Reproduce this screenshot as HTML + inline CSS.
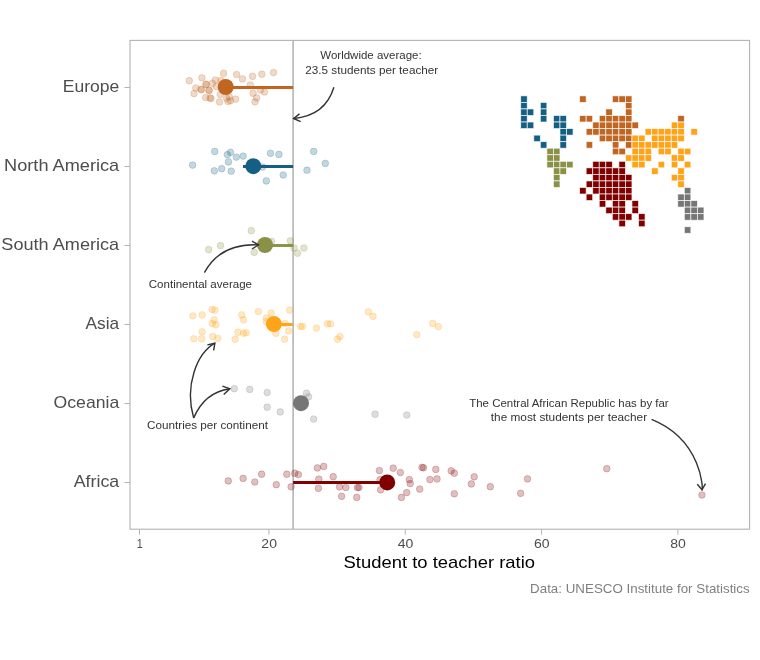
<!DOCTYPE html><html><head><meta charset="utf-8"><style>html,body{margin:0;padding:0;background:#fff;}svg{display:block;will-change:transform;}text{font-family:"Liberation Sans",sans-serif;}</style></head><body>
<svg width="760" height="660" viewBox="0 0 760 660">
<rect x="0" y="0" width="760" height="660" fill="#fff"/>
<line x1="124.5" y1="87.5" x2="130" y2="87.5" stroke="#b3b3b3" stroke-width="1"/>
<text x="119.2" y="91.8" font-size="15.7" fill="#4d4d4d" text-anchor="end" textLength="56.4" lengthAdjust="spacingAndGlyphs">Europe</text>
<line x1="124.5" y1="166.5" x2="130" y2="166.5" stroke="#b3b3b3" stroke-width="1"/>
<text x="119.2" y="170.8" font-size="15.7" fill="#4d4d4d" text-anchor="end" textLength="115.1" lengthAdjust="spacingAndGlyphs">North America</text>
<line x1="124.5" y1="245.5" x2="130" y2="245.5" stroke="#b3b3b3" stroke-width="1"/>
<text x="119.2" y="249.8" font-size="15.7" fill="#4d4d4d" text-anchor="end" textLength="117.9" lengthAdjust="spacingAndGlyphs">South America</text>
<line x1="124.5" y1="324.5" x2="130" y2="324.5" stroke="#b3b3b3" stroke-width="1"/>
<text x="119.2" y="328.8" font-size="15.7" fill="#4d4d4d" text-anchor="end" textLength="33.6" lengthAdjust="spacingAndGlyphs">Asia</text>
<line x1="124.5" y1="403.5" x2="130" y2="403.5" stroke="#b3b3b3" stroke-width="1"/>
<text x="119.2" y="407.8" font-size="15.7" fill="#4d4d4d" text-anchor="end" textLength="65.6" lengthAdjust="spacingAndGlyphs">Oceania</text>
<line x1="124.5" y1="482.5" x2="130" y2="482.5" stroke="#b3b3b3" stroke-width="1"/>
<text x="119.2" y="486.8" font-size="15.7" fill="#4d4d4d" text-anchor="end" textLength="45.5" lengthAdjust="spacingAndGlyphs">Africa</text>
<line x1="139.45" y1="529.5" x2="139.45" y2="534.7" stroke="#b3b3b3" stroke-width="1"/>
<text x="139.65" y="548.3" font-size="12.9" fill="#4d4d4d" text-anchor="middle" textLength="6.0" lengthAdjust="spacingAndGlyphs">1</text>
<line x1="268.95" y1="529.5" x2="268.95" y2="534.7" stroke="#b3b3b3" stroke-width="1"/>
<text x="269.15" y="548.3" font-size="12.9" fill="#4d4d4d" text-anchor="middle" textLength="15.6" lengthAdjust="spacingAndGlyphs">20</text>
<line x1="405.27" y1="529.5" x2="405.27" y2="534.7" stroke="#b3b3b3" stroke-width="1"/>
<text x="405.47" y="548.3" font-size="12.9" fill="#4d4d4d" text-anchor="middle" textLength="15.6" lengthAdjust="spacingAndGlyphs">40</text>
<line x1="541.59" y1="529.5" x2="541.59" y2="534.7" stroke="#b3b3b3" stroke-width="1"/>
<text x="541.79" y="548.3" font-size="12.9" fill="#4d4d4d" text-anchor="middle" textLength="15.6" lengthAdjust="spacingAndGlyphs">60</text>
<line x1="677.91" y1="529.5" x2="677.91" y2="534.7" stroke="#b3b3b3" stroke-width="1"/>
<text x="678.11" y="548.3" font-size="12.9" fill="#4d4d4d" text-anchor="middle" textLength="15.6" lengthAdjust="spacingAndGlyphs">80</text>
<text x="343.6" y="568.2" font-size="17" fill="#000" textLength="191.4" lengthAdjust="spacingAndGlyphs">Student to teacher ratio</text>
<text x="749.7" y="593" font-size="12.6" fill="#7f7f7f" text-anchor="end" textLength="219.6" lengthAdjust="spacingAndGlyphs">Data: UNESCO Institute for Statistics</text>
<line x1="293.1" y1="40" x2="293.1" y2="529" stroke="#aaaaaa" stroke-width="1.4"/>
<line x1="225.7" y1="87.5" x2="293.1" y2="87.5" stroke="#C16622" stroke-width="2.9"/>
<line x1="243" y1="166.5" x2="293.1" y2="166.5" stroke="#155F83" stroke-width="2.9"/>
<line x1="265" y1="245.5" x2="293.1" y2="245.5" stroke="#8A9045" stroke-width="2.9"/>
<line x1="273.9" y1="324.5" x2="293.1" y2="324.5" stroke="#FFA319" stroke-width="2.9"/>
<line x1="301" y1="403.5" x2="293.1" y2="403.5" stroke="#767676" stroke-width="2.9"/>
<line x1="387.2" y1="482.5" x2="293.1" y2="482.5" stroke="#800000" stroke-width="2.9"/>
<g fill="#C16622" fill-opacity="0.25" stroke="#C16622" stroke-opacity="0.25" stroke-width="0.8">
<circle cx="189.3" cy="80.7" r="3.35"/>
<circle cx="201.9" cy="77.8" r="3.35"/>
<circle cx="223.6" cy="73.3" r="3.35"/>
<circle cx="236.6" cy="74.5" r="3.35"/>
<circle cx="195.8" cy="88" r="3.35"/>
<circle cx="194" cy="93.6" r="3.35"/>
<circle cx="201.3" cy="89.6" r="3.35"/>
<circle cx="206" cy="84.3" r="3.35"/>
<circle cx="209.2" cy="90.3" r="3.35"/>
<circle cx="215.4" cy="80" r="3.35"/>
<circle cx="212.4" cy="83.3" r="3.35"/>
<circle cx="216.3" cy="86.5" r="3.35"/>
<circle cx="205.7" cy="97.5" r="3.35"/>
<circle cx="210" cy="97.9" r="3.35"/>
<circle cx="219.5" cy="101.9" r="3.35"/>
<circle cx="220.3" cy="94.4" r="3.35"/>
<circle cx="226.6" cy="98.3" r="3.35"/>
<circle cx="230.5" cy="100.7" r="3.35"/>
<circle cx="235.6" cy="99.1" r="3.35"/>
<circle cx="229.3" cy="96.7" r="3.35"/>
<circle cx="221" cy="80.5" r="3.35"/>
<circle cx="242.4" cy="78.9" r="3.35"/>
<circle cx="252.6" cy="76.3" r="3.35"/>
<circle cx="261.8" cy="74.2" r="3.35"/>
<circle cx="273.5" cy="72.6" r="3.35"/>
<circle cx="250.3" cy="85" r="3.35"/>
<circle cx="253.1" cy="93.2" r="3.35"/>
<circle cx="256.6" cy="97.9" r="3.35"/>
<circle cx="255" cy="101.8" r="3.35"/>
<circle cx="260.5" cy="90" r="3.35"/>
<circle cx="264.5" cy="92" r="3.35"/>
<circle cx="211" cy="98.5" r="3.35"/>
<circle cx="228" cy="101.5" r="3.35"/>
<circle cx="206.1" cy="84.4" r="3.35"/>
<circle cx="201.1" cy="89.5" r="3.35"/>
<circle cx="208.9" cy="90.4" r="3.35"/>
</g>
<g fill="#155F83" fill-opacity="0.25" stroke="#155F83" stroke-opacity="0.25" stroke-width="0.8">
<circle cx="192.6" cy="165.1" r="3.35"/>
<circle cx="214.7" cy="151.4" r="3.35"/>
<circle cx="227.4" cy="154.6" r="3.35"/>
<circle cx="230.5" cy="152.3" r="3.35"/>
<circle cx="236.4" cy="157.1" r="3.35"/>
<circle cx="243.2" cy="156.1" r="3.35"/>
<circle cx="228.4" cy="161.9" r="3.35"/>
<circle cx="214.3" cy="170.8" r="3.35"/>
<circle cx="221.7" cy="168.7" r="3.35"/>
<circle cx="231.2" cy="171.2" r="3.35"/>
<circle cx="262.5" cy="167" r="3.35"/>
<circle cx="266.3" cy="180.9" r="3.35"/>
<circle cx="270.5" cy="153.3" r="3.35"/>
<circle cx="278.9" cy="154.4" r="3.35"/>
<circle cx="283.2" cy="175" r="3.35"/>
<circle cx="313.7" cy="151.4" r="3.35"/>
<circle cx="325.3" cy="163.4" r="3.35"/>
<circle cx="307" cy="170.2" r="3.35"/>
</g>
<g fill="#8A9045" fill-opacity="0.25" stroke="#8A9045" stroke-opacity="0.25" stroke-width="0.8">
<circle cx="208.7" cy="249.6" r="3.35"/>
<circle cx="220.5" cy="245.6" r="3.35"/>
<circle cx="251.3" cy="230.7" r="3.35"/>
<circle cx="254.2" cy="252.4" r="3.35"/>
<circle cx="271.5" cy="241.3" r="3.35"/>
<circle cx="290.4" cy="240.8" r="3.35"/>
<circle cx="294" cy="248" r="3.35"/>
<circle cx="297.5" cy="253.2" r="3.35"/>
<circle cx="303.9" cy="248" r="3.35"/>
</g>
<g fill="#FFA319" fill-opacity="0.25" stroke="#FFA319" stroke-opacity="0.25" stroke-width="0.8">
<circle cx="192.9" cy="315.8" r="3.35"/>
<circle cx="202.1" cy="314.9" r="3.35"/>
<circle cx="212.2" cy="309.4" r="3.35"/>
<circle cx="215" cy="310.1" r="3.35"/>
<circle cx="214.1" cy="319.9" r="3.35"/>
<circle cx="212.2" cy="323.5" r="3.35"/>
<circle cx="215.9" cy="324.8" r="3.35"/>
<circle cx="202.1" cy="331.8" r="3.35"/>
<circle cx="193.8" cy="338.8" r="3.35"/>
<circle cx="201.7" cy="338.8" r="3.35"/>
<circle cx="212.8" cy="336.4" r="3.35"/>
<circle cx="217.8" cy="338.3" r="3.35"/>
<circle cx="241.7" cy="314.9" r="3.35"/>
<circle cx="243.5" cy="319.9" r="3.35"/>
<circle cx="238" cy="332.2" r="3.35"/>
<circle cx="243.5" cy="333.3" r="3.35"/>
<circle cx="246.3" cy="332.8" r="3.35"/>
<circle cx="235.2" cy="339.2" r="3.35"/>
<circle cx="258.3" cy="311.6" r="3.35"/>
<circle cx="271.2" cy="313" r="3.35"/>
<circle cx="266.6" cy="318" r="3.35"/>
<circle cx="266.2" cy="321.7" r="3.35"/>
<circle cx="289.6" cy="310.1" r="3.35"/>
<circle cx="285" cy="323.5" r="3.35"/>
<circle cx="288.7" cy="330.9" r="3.35"/>
<circle cx="275.8" cy="333.3" r="3.35"/>
<circle cx="284.6" cy="339.2" r="3.35"/>
<circle cx="300.5" cy="326.6" r="3.35"/>
<circle cx="302.5" cy="326.3" r="3.35"/>
<circle cx="316.4" cy="328" r="3.35"/>
<circle cx="327.4" cy="323.8" r="3.35"/>
<circle cx="330.5" cy="323.8" r="3.35"/>
<circle cx="340" cy="336.5" r="3.35"/>
<circle cx="337.5" cy="339.2" r="3.35"/>
<circle cx="368.4" cy="311.8" r="3.35"/>
<circle cx="373" cy="316.3" r="3.35"/>
<circle cx="416.8" cy="334.6" r="3.35"/>
<circle cx="432.6" cy="323.4" r="3.35"/>
<circle cx="438.3" cy="326.6" r="3.35"/>
</g>
<g fill="#767676" fill-opacity="0.25" stroke="#767676" stroke-opacity="0.25" stroke-width="0.8">
<circle cx="234.3" cy="388.7" r="3.35"/>
<circle cx="249.7" cy="389.4" r="3.35"/>
<circle cx="267.2" cy="392.5" r="3.35"/>
<circle cx="267.2" cy="407.2" r="3.35"/>
<circle cx="280.2" cy="411.9" r="3.35"/>
<circle cx="306.5" cy="393.2" r="3.35"/>
<circle cx="308.6" cy="396.8" r="3.35"/>
<circle cx="313.6" cy="419" r="3.35"/>
<circle cx="375.1" cy="414.2" r="3.35"/>
<circle cx="406.8" cy="415" r="3.35"/>
</g>
<g fill="#800000" fill-opacity="0.25" stroke="#800000" stroke-opacity="0.25" stroke-width="0.8">
<circle cx="228.3" cy="480.9" r="3.35"/>
<circle cx="243.1" cy="478.4" r="3.35"/>
<circle cx="254.8" cy="482" r="3.35"/>
<circle cx="261.6" cy="474.2" r="3.35"/>
<circle cx="276.3" cy="484.7" r="3.35"/>
<circle cx="286.8" cy="474.2" r="3.35"/>
<circle cx="291.1" cy="486.8" r="3.35"/>
<circle cx="294.8" cy="473.2" r="3.35"/>
<circle cx="298.4" cy="474.6" r="3.35"/>
<circle cx="317.4" cy="467.9" r="3.35"/>
<circle cx="323.7" cy="466.4" r="3.35"/>
<circle cx="318.8" cy="479.1" r="3.35"/>
<circle cx="318.4" cy="488.3" r="3.35"/>
<circle cx="333.2" cy="476.7" r="3.35"/>
<circle cx="339.5" cy="486.8" r="3.35"/>
<circle cx="345.8" cy="487.5" r="3.35"/>
<circle cx="341.6" cy="496.3" r="3.35"/>
<circle cx="356.7" cy="497.4" r="3.35"/>
<circle cx="357.4" cy="487.5" r="3.35"/>
<circle cx="359" cy="487.5" r="3.35"/>
<circle cx="379.4" cy="470.6" r="3.35"/>
<circle cx="393.2" cy="468.2" r="3.35"/>
<circle cx="400.3" cy="472.5" r="3.35"/>
<circle cx="380.1" cy="479.6" r="3.35"/>
<circle cx="380.6" cy="489.8" r="3.35"/>
<circle cx="409.3" cy="479.6" r="3.35"/>
<circle cx="410.2" cy="483.6" r="3.35"/>
<circle cx="406.7" cy="492.6" r="3.35"/>
<circle cx="401.4" cy="497.4" r="3.35"/>
<circle cx="419.7" cy="489.1" r="3.35"/>
<circle cx="422" cy="467.3" r="3.35"/>
<circle cx="423.5" cy="467.8" r="3.35"/>
<circle cx="435.8" cy="469.4" r="3.35"/>
<circle cx="429.9" cy="479.6" r="3.35"/>
<circle cx="437" cy="478.9" r="3.35"/>
<circle cx="451.2" cy="470.8" r="3.35"/>
<circle cx="454.3" cy="473.2" r="3.35"/>
<circle cx="454.3" cy="493.8" r="3.35"/>
<circle cx="474.2" cy="476.8" r="3.35"/>
<circle cx="471.3" cy="483.9" r="3.35"/>
<circle cx="490.3" cy="486.7" r="3.35"/>
<circle cx="527.5" cy="478.9" r="3.35"/>
<circle cx="520.6" cy="493.3" r="3.35"/>
<circle cx="606.8" cy="468.7" r="3.35"/>
<circle cx="701.9" cy="495" r="3.35"/>
</g>
<circle cx="225.7" cy="87" r="8.0" fill="#C16622"/>
<circle cx="253.3" cy="166.2" r="8.0" fill="#155F83"/>
<circle cx="265" cy="245" r="8.0" fill="#8A9045"/>
<circle cx="273.9" cy="324.1" r="8.0" fill="#FFA319"/>
<circle cx="301" cy="403.2" r="8.0" fill="#767676"/>
<circle cx="387.2" cy="482.4" r="8.0" fill="#800000"/>
<rect x="130.0" y="40.4" width="619.6" height="488.8" fill="none" stroke="#b3b3b3" stroke-width="1.1"/>
<g stroke="#fff" stroke-width="0.8" stroke-opacity="0.8">
<rect x="520.7" y="95.85" width="6.54" height="6.54" fill="#155F83"/>
<rect x="520.7" y="102.39" width="6.54" height="6.54" fill="#155F83"/>
<rect x="540.34" y="102.39" width="6.54" height="6.54" fill="#155F83"/>
<rect x="520.7" y="108.94" width="6.54" height="6.54" fill="#155F83"/>
<rect x="527.25" y="108.94" width="6.54" height="6.54" fill="#155F83"/>
<rect x="540.34" y="108.94" width="6.54" height="6.54" fill="#155F83"/>
<rect x="520.7" y="115.48" width="6.54" height="6.54" fill="#155F83"/>
<rect x="540.34" y="115.48" width="6.54" height="6.54" fill="#155F83"/>
<rect x="553.43" y="115.48" width="6.54" height="6.54" fill="#155F83"/>
<rect x="559.97" y="115.48" width="6.54" height="6.54" fill="#155F83"/>
<rect x="520.7" y="122.03" width="6.54" height="6.54" fill="#155F83"/>
<rect x="527.25" y="122.03" width="6.54" height="6.54" fill="#155F83"/>
<rect x="553.43" y="122.03" width="6.54" height="6.54" fill="#155F83"/>
<rect x="559.97" y="122.03" width="6.54" height="6.54" fill="#155F83"/>
<rect x="559.97" y="128.57" width="6.54" height="6.54" fill="#155F83"/>
<rect x="566.52" y="128.57" width="6.54" height="6.54" fill="#155F83"/>
<rect x="533.79" y="135.12" width="6.54" height="6.54" fill="#155F83"/>
<rect x="559.97" y="135.12" width="6.54" height="6.54" fill="#155F83"/>
<rect x="540.34" y="141.66" width="6.54" height="6.54" fill="#155F83"/>
<rect x="559.97" y="141.66" width="6.54" height="6.54" fill="#155F83"/>
<rect x="546.88" y="148.21" width="6.54" height="6.54" fill="#8A9045"/>
<rect x="553.43" y="148.21" width="6.54" height="6.54" fill="#8A9045"/>
<rect x="546.88" y="154.75" width="6.54" height="6.54" fill="#8A9045"/>
<rect x="553.43" y="154.75" width="6.54" height="6.54" fill="#8A9045"/>
<rect x="546.88" y="161.3" width="6.54" height="6.54" fill="#8A9045"/>
<rect x="553.43" y="161.3" width="6.54" height="6.54" fill="#8A9045"/>
<rect x="559.97" y="161.3" width="6.54" height="6.54" fill="#8A9045"/>
<rect x="566.52" y="161.3" width="6.54" height="6.54" fill="#8A9045"/>
<rect x="553.43" y="167.84" width="6.54" height="6.54" fill="#8A9045"/>
<rect x="559.97" y="167.84" width="6.54" height="6.54" fill="#8A9045"/>
<rect x="553.43" y="174.39" width="6.54" height="6.54" fill="#8A9045"/>
<rect x="553.43" y="180.94" width="6.54" height="6.54" fill="#8A9045"/>
<rect x="579.61" y="95.85" width="6.54" height="6.54" fill="#C16622"/>
<rect x="612.33" y="95.85" width="6.54" height="6.54" fill="#C16622"/>
<rect x="618.88" y="95.85" width="6.54" height="6.54" fill="#C16622"/>
<rect x="625.42" y="95.85" width="6.54" height="6.54" fill="#C16622"/>
<rect x="625.42" y="102.39" width="6.54" height="6.54" fill="#C16622"/>
<rect x="605.79" y="108.94" width="6.54" height="6.54" fill="#C16622"/>
<rect x="625.42" y="108.94" width="6.54" height="6.54" fill="#C16622"/>
<rect x="579.61" y="115.48" width="6.54" height="6.54" fill="#C16622"/>
<rect x="586.15" y="115.48" width="6.54" height="6.54" fill="#C16622"/>
<rect x="599.24" y="115.48" width="6.54" height="6.54" fill="#C16622"/>
<rect x="605.79" y="115.48" width="6.54" height="6.54" fill="#C16622"/>
<rect x="612.33" y="115.48" width="6.54" height="6.54" fill="#C16622"/>
<rect x="618.88" y="115.48" width="6.54" height="6.54" fill="#C16622"/>
<rect x="625.42" y="115.48" width="6.54" height="6.54" fill="#C16622"/>
<rect x="677.78" y="115.48" width="6.54" height="6.54" fill="#C16622"/>
<rect x="592.7" y="122.03" width="6.54" height="6.54" fill="#C16622"/>
<rect x="599.24" y="122.03" width="6.54" height="6.54" fill="#C16622"/>
<rect x="605.79" y="122.03" width="6.54" height="6.54" fill="#C16622"/>
<rect x="612.33" y="122.03" width="6.54" height="6.54" fill="#C16622"/>
<rect x="618.88" y="122.03" width="6.54" height="6.54" fill="#C16622"/>
<rect x="625.42" y="122.03" width="6.54" height="6.54" fill="#C16622"/>
<rect x="631.97" y="122.03" width="6.54" height="6.54" fill="#C16622"/>
<rect x="586.15" y="128.57" width="6.54" height="6.54" fill="#C16622"/>
<rect x="592.7" y="128.57" width="6.54" height="6.54" fill="#C16622"/>
<rect x="599.24" y="128.57" width="6.54" height="6.54" fill="#C16622"/>
<rect x="605.79" y="128.57" width="6.54" height="6.54" fill="#C16622"/>
<rect x="612.33" y="128.57" width="6.54" height="6.54" fill="#C16622"/>
<rect x="618.88" y="128.57" width="6.54" height="6.54" fill="#C16622"/>
<rect x="625.42" y="128.57" width="6.54" height="6.54" fill="#C16622"/>
<rect x="599.24" y="135.12" width="6.54" height="6.54" fill="#C16622"/>
<rect x="605.79" y="135.12" width="6.54" height="6.54" fill="#C16622"/>
<rect x="612.33" y="135.12" width="6.54" height="6.54" fill="#C16622"/>
<rect x="618.88" y="135.12" width="6.54" height="6.54" fill="#C16622"/>
<rect x="625.42" y="135.12" width="6.54" height="6.54" fill="#C16622"/>
<rect x="586.15" y="141.66" width="6.54" height="6.54" fill="#C16622"/>
<rect x="612.33" y="141.66" width="6.54" height="6.54" fill="#C16622"/>
<rect x="625.42" y="141.66" width="6.54" height="6.54" fill="#C16622"/>
<rect x="612.33" y="148.21" width="6.54" height="6.54" fill="#C16622"/>
<rect x="618.88" y="148.21" width="6.54" height="6.54" fill="#C16622"/>
<rect x="671.24" y="122.03" width="6.54" height="6.54" fill="#FFA319"/>
<rect x="677.78" y="122.03" width="6.54" height="6.54" fill="#FFA319"/>
<rect x="645.06" y="128.57" width="6.54" height="6.54" fill="#FFA319"/>
<rect x="651.6" y="128.57" width="6.54" height="6.54" fill="#FFA319"/>
<rect x="658.14" y="128.57" width="6.54" height="6.54" fill="#FFA319"/>
<rect x="664.69" y="128.57" width="6.54" height="6.54" fill="#FFA319"/>
<rect x="671.24" y="128.57" width="6.54" height="6.54" fill="#FFA319"/>
<rect x="677.78" y="128.57" width="6.54" height="6.54" fill="#FFA319"/>
<rect x="690.87" y="128.57" width="6.54" height="6.54" fill="#FFA319"/>
<rect x="631.97" y="135.12" width="6.54" height="6.54" fill="#FFA319"/>
<rect x="638.51" y="135.12" width="6.54" height="6.54" fill="#FFA319"/>
<rect x="651.6" y="135.12" width="6.54" height="6.54" fill="#FFA319"/>
<rect x="658.14" y="135.12" width="6.54" height="6.54" fill="#FFA319"/>
<rect x="664.69" y="135.12" width="6.54" height="6.54" fill="#FFA319"/>
<rect x="671.24" y="135.12" width="6.54" height="6.54" fill="#FFA319"/>
<rect x="677.78" y="135.12" width="6.54" height="6.54" fill="#FFA319"/>
<rect x="631.97" y="141.66" width="6.54" height="6.54" fill="#FFA319"/>
<rect x="638.51" y="141.66" width="6.54" height="6.54" fill="#FFA319"/>
<rect x="645.06" y="141.66" width="6.54" height="6.54" fill="#FFA319"/>
<rect x="651.6" y="141.66" width="6.54" height="6.54" fill="#FFA319"/>
<rect x="658.14" y="141.66" width="6.54" height="6.54" fill="#FFA319"/>
<rect x="664.69" y="141.66" width="6.54" height="6.54" fill="#FFA319"/>
<rect x="671.24" y="141.66" width="6.54" height="6.54" fill="#FFA319"/>
<rect x="631.97" y="148.21" width="6.54" height="6.54" fill="#FFA319"/>
<rect x="638.51" y="148.21" width="6.54" height="6.54" fill="#FFA319"/>
<rect x="645.06" y="148.21" width="6.54" height="6.54" fill="#FFA319"/>
<rect x="658.14" y="148.21" width="6.54" height="6.54" fill="#FFA319"/>
<rect x="664.69" y="148.21" width="6.54" height="6.54" fill="#FFA319"/>
<rect x="677.78" y="148.21" width="6.54" height="6.54" fill="#FFA319"/>
<rect x="684.33" y="148.21" width="6.54" height="6.54" fill="#FFA319"/>
<rect x="625.42" y="154.75" width="6.54" height="6.54" fill="#FFA319"/>
<rect x="631.97" y="154.75" width="6.54" height="6.54" fill="#FFA319"/>
<rect x="638.51" y="154.75" width="6.54" height="6.54" fill="#FFA319"/>
<rect x="645.06" y="154.75" width="6.54" height="6.54" fill="#FFA319"/>
<rect x="671.24" y="154.75" width="6.54" height="6.54" fill="#FFA319"/>
<rect x="677.78" y="154.75" width="6.54" height="6.54" fill="#FFA319"/>
<rect x="631.97" y="161.3" width="6.54" height="6.54" fill="#FFA319"/>
<rect x="638.51" y="161.3" width="6.54" height="6.54" fill="#FFA319"/>
<rect x="658.14" y="161.3" width="6.54" height="6.54" fill="#FFA319"/>
<rect x="671.24" y="161.3" width="6.54" height="6.54" fill="#FFA319"/>
<rect x="684.33" y="161.3" width="6.54" height="6.54" fill="#FFA319"/>
<rect x="651.6" y="167.84" width="6.54" height="6.54" fill="#FFA319"/>
<rect x="677.78" y="167.84" width="6.54" height="6.54" fill="#FFA319"/>
<rect x="671.24" y="174.39" width="6.54" height="6.54" fill="#FFA319"/>
<rect x="677.78" y="174.39" width="6.54" height="6.54" fill="#FFA319"/>
<rect x="677.78" y="180.94" width="6.54" height="6.54" fill="#FFA319"/>
<rect x="592.7" y="161.3" width="6.54" height="6.54" fill="#800000"/>
<rect x="599.24" y="161.3" width="6.54" height="6.54" fill="#800000"/>
<rect x="605.79" y="161.3" width="6.54" height="6.54" fill="#800000"/>
<rect x="618.88" y="161.3" width="6.54" height="6.54" fill="#800000"/>
<rect x="586.15" y="167.84" width="6.54" height="6.54" fill="#800000"/>
<rect x="592.7" y="167.84" width="6.54" height="6.54" fill="#800000"/>
<rect x="599.24" y="167.84" width="6.54" height="6.54" fill="#800000"/>
<rect x="605.79" y="167.84" width="6.54" height="6.54" fill="#800000"/>
<rect x="612.33" y="167.84" width="6.54" height="6.54" fill="#800000"/>
<rect x="618.88" y="167.84" width="6.54" height="6.54" fill="#800000"/>
<rect x="592.7" y="174.39" width="6.54" height="6.54" fill="#800000"/>
<rect x="599.24" y="174.39" width="6.54" height="6.54" fill="#800000"/>
<rect x="605.79" y="174.39" width="6.54" height="6.54" fill="#800000"/>
<rect x="612.33" y="174.39" width="6.54" height="6.54" fill="#800000"/>
<rect x="618.88" y="174.39" width="6.54" height="6.54" fill="#800000"/>
<rect x="625.42" y="174.39" width="6.54" height="6.54" fill="#800000"/>
<rect x="586.15" y="180.94" width="6.54" height="6.54" fill="#800000"/>
<rect x="592.7" y="180.94" width="6.54" height="6.54" fill="#800000"/>
<rect x="599.24" y="180.94" width="6.54" height="6.54" fill="#800000"/>
<rect x="605.79" y="180.94" width="6.54" height="6.54" fill="#800000"/>
<rect x="612.33" y="180.94" width="6.54" height="6.54" fill="#800000"/>
<rect x="618.88" y="180.94" width="6.54" height="6.54" fill="#800000"/>
<rect x="625.42" y="180.94" width="6.54" height="6.54" fill="#800000"/>
<rect x="579.61" y="187.48" width="6.54" height="6.54" fill="#800000"/>
<rect x="592.7" y="187.48" width="6.54" height="6.54" fill="#800000"/>
<rect x="599.24" y="187.48" width="6.54" height="6.54" fill="#800000"/>
<rect x="605.79" y="187.48" width="6.54" height="6.54" fill="#800000"/>
<rect x="612.33" y="187.48" width="6.54" height="6.54" fill="#800000"/>
<rect x="618.88" y="187.48" width="6.54" height="6.54" fill="#800000"/>
<rect x="625.42" y="187.48" width="6.54" height="6.54" fill="#800000"/>
<rect x="586.15" y="194.02" width="6.54" height="6.54" fill="#800000"/>
<rect x="599.24" y="194.02" width="6.54" height="6.54" fill="#800000"/>
<rect x="605.79" y="194.02" width="6.54" height="6.54" fill="#800000"/>
<rect x="612.33" y="194.02" width="6.54" height="6.54" fill="#800000"/>
<rect x="618.88" y="194.02" width="6.54" height="6.54" fill="#800000"/>
<rect x="625.42" y="194.02" width="6.54" height="6.54" fill="#800000"/>
<rect x="599.24" y="200.57" width="6.54" height="6.54" fill="#800000"/>
<rect x="612.33" y="200.57" width="6.54" height="6.54" fill="#800000"/>
<rect x="618.88" y="200.57" width="6.54" height="6.54" fill="#800000"/>
<rect x="631.97" y="200.57" width="6.54" height="6.54" fill="#800000"/>
<rect x="605.79" y="207.12" width="6.54" height="6.54" fill="#800000"/>
<rect x="612.33" y="207.12" width="6.54" height="6.54" fill="#800000"/>
<rect x="618.88" y="207.12" width="6.54" height="6.54" fill="#800000"/>
<rect x="631.97" y="207.12" width="6.54" height="6.54" fill="#800000"/>
<rect x="612.33" y="213.66" width="6.54" height="6.54" fill="#800000"/>
<rect x="618.88" y="213.66" width="6.54" height="6.54" fill="#800000"/>
<rect x="625.42" y="213.66" width="6.54" height="6.54" fill="#800000"/>
<rect x="638.51" y="213.66" width="6.54" height="6.54" fill="#800000"/>
<rect x="618.88" y="220.2" width="6.54" height="6.54" fill="#800000"/>
<rect x="638.51" y="220.2" width="6.54" height="6.54" fill="#800000"/>
<rect x="684.33" y="187.48" width="6.54" height="6.54" fill="#767676"/>
<rect x="677.78" y="194.02" width="6.54" height="6.54" fill="#767676"/>
<rect x="684.33" y="194.02" width="6.54" height="6.54" fill="#767676"/>
<rect x="677.78" y="200.57" width="6.54" height="6.54" fill="#767676"/>
<rect x="684.33" y="200.57" width="6.54" height="6.54" fill="#767676"/>
<rect x="690.87" y="200.57" width="6.54" height="6.54" fill="#767676"/>
<rect x="684.33" y="207.12" width="6.54" height="6.54" fill="#767676"/>
<rect x="690.87" y="207.12" width="6.54" height="6.54" fill="#767676"/>
<rect x="697.42" y="207.12" width="6.54" height="6.54" fill="#767676"/>
<rect x="684.33" y="213.66" width="6.54" height="6.54" fill="#767676"/>
<rect x="690.87" y="213.66" width="6.54" height="6.54" fill="#767676"/>
<rect x="697.42" y="213.66" width="6.54" height="6.54" fill="#767676"/>
<rect x="684.33" y="226.75" width="6.54" height="6.54" fill="#767676"/>
</g>
<text x="320.3" y="59.1" font-size="11" fill="#333333" text-anchor="start" textLength="101.3" lengthAdjust="spacingAndGlyphs">Worldwide average:</text>
<text x="305.3" y="73.5" font-size="11" fill="#333333" text-anchor="start" textLength="132.9" lengthAdjust="spacingAndGlyphs">23.5 students per teacher</text>
<text x="148.8" y="287.7" font-size="11" fill="#333333" text-anchor="start" textLength="103.2" lengthAdjust="spacingAndGlyphs">Continental average</text>
<text x="147.1" y="429.4" font-size="11" fill="#333333" text-anchor="start" textLength="120.8" lengthAdjust="spacingAndGlyphs">Countries per continent</text>
<text x="469.2" y="406.8" font-size="11" fill="#333333" text-anchor="start" textLength="199.5" lengthAdjust="spacingAndGlyphs">The Central African Republic has by far</text>
<text x="490.8" y="421.4" font-size="11" fill="#333333" text-anchor="start" textLength="156.3" lengthAdjust="spacingAndGlyphs">the most students per teacher</text>
<path d="M333.9,87.3 Q325.3,115.8 293.6,118.5" fill="none" stroke="#333333" stroke-width="1.4" stroke-linecap="butt"/>
<path d="M299.5,113.9 L293.6,118.5 L300.6,121.6" fill="none" stroke="#333333" stroke-width="1.4" stroke-linecap="butt" stroke-linejoin="miter"/>
<path d="M204.4,272.6 Q220.4,243.1 258.5,244.9" fill="none" stroke="#333333" stroke-width="1.4" stroke-linecap="butt"/>
<path d="M252,241.2 L258.5,244.9 L252,249" fill="none" stroke="#333333" stroke-width="1.4" stroke-linecap="butt" stroke-linejoin="miter"/>
<path d="M193.7,418.1 C184.2,385.4 197,353.3 214.9,343.2" fill="none" stroke="#333333" stroke-width="1.4" stroke-linecap="butt"/>
<path d="M207.4,344.9 L214.9,343.2 L213.6,350.3" fill="none" stroke="#333333" stroke-width="1.4" stroke-linecap="butt" stroke-linejoin="miter"/>
<path d="M193.7,418.1 Q204.3,392.5 229.9,388.8" fill="none" stroke="#333333" stroke-width="1.4" stroke-linecap="butt"/>
<path d="M222.4,386.2 L229.9,388.8 L223.7,394.4" fill="none" stroke="#333333" stroke-width="1.4" stroke-linecap="butt" stroke-linejoin="miter"/>
<path d="M651.6,419.3 C702.7,439.9 703.2,490.9 702,489.8" fill="none" stroke="#333333" stroke-width="1.4" stroke-linecap="butt"/>
<path d="M697.3,484.3 L702,489.8 L705.5,483.6" fill="none" stroke="#333333" stroke-width="1.4" stroke-linecap="butt" stroke-linejoin="miter"/>
</svg></body></html>
